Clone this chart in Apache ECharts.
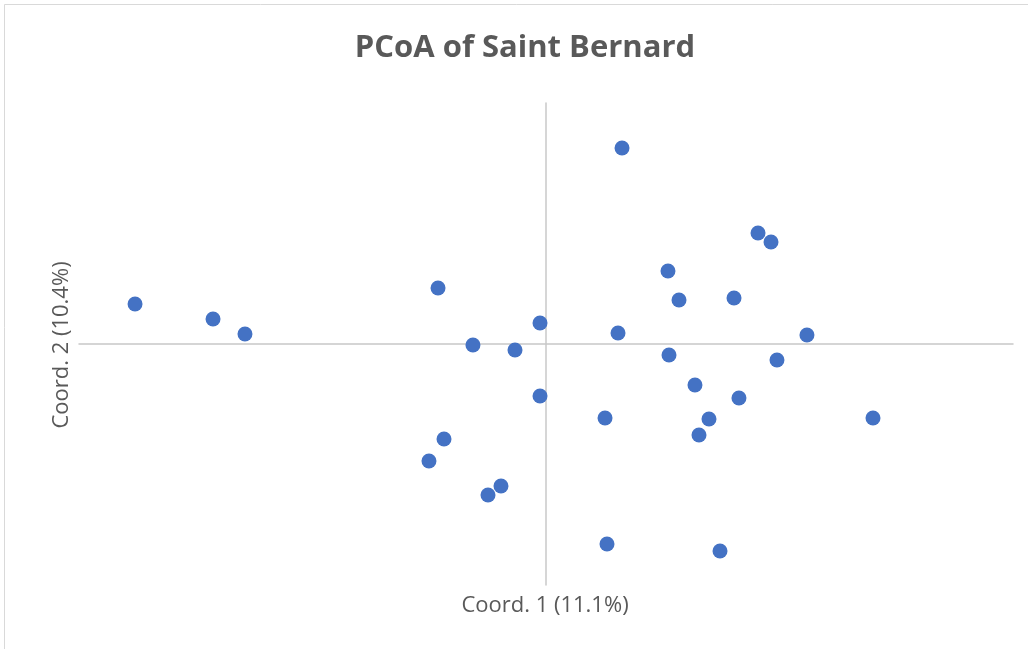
<!DOCTYPE html>
<html><head><meta charset="utf-8">
<script src="https://cdn.jsdelivr.net/npm/echarts@6/dist/echarts.min.js"></script>
<style>html,body{margin:0;padding:0;background:#fff}#c{width:1028px;height:649px}</style>
</head><body><div id="c"></div>
<script>
const title = 'PCoA of Saint Bernard';
const xName = 'Coord. 1 (11.1%)';
const yName = 'Coord. 2 (10.4%)';
const coord1 = [0.0814,0.2270,0.2409,0.1306,-0.1156,0.1424,0.2013,-0.4400,-0.3565,-0.3223,-0.0064,0.0771,0.2794,-0.0782,-0.0332,0.1317,0.2473,0.1595,-0.0064,0.2066,0.0632,0.1745,0.3501,0.1638,-0.1092,-0.1253,-0.0482,-0.0621,0.0653,0.1863];
const coord2 = [0.3253,0.1842,0.1693,0.1212,0.0929,0.0730,0.0763,0.0664,0.0415,0.0166,0.0349,0.0183,0.0149,-0.0017,-0.0100,-0.0183,-0.0266,-0.0680,-0.0863,-0.0896,-0.1228,-0.1245,-0.1228,-0.1510,-0.1577,-0.1942,-0.2357,-0.2506,-0.3320,-0.3436];
const pts = coord1.map((x,i)=>[x,coord2[i]]);
const font = '"Open Sans", "Liberation Sans", sans-serif';
const chart = echarts.init(document.getElementById('c'));
const axisCommon = {
  type:'value',
  axisLine:{onZero:true, lineStyle:{color:'#c8c8c8', width:1.5}},
  axisTick:{show:false}, axisLabel:{show:false}, splitLine:{show:false}
};
chart.setOption({
  animation:false,
  backgroundColor:'#fff',
  grid:{left:79,right:15,top:103,bottom:64},
  xAxis:Object.assign({min:-0.5,max:0.5}, axisCommon),
  yAxis:Object.assign({min:-0.4,max:0.4}, axisCommon),
  graphic:[
    {type:'rect', shape:{x:4.5,y:4.5,width:1100,height:700}, style:{fill:'none',stroke:'#d9d9d9',lineWidth:1}, silent:true, z:-1},
    {type:'text', x:525, y:48, style:{text:title, font:'bold 31px '+font, fill:'#595959', textAlign:'center', textVerticalAlign:'middle'}},
    {type:'text', x:545, y:606, style:{text:xName, font:'22px '+font, fill:'#595959', textAlign:'center', textVerticalAlign:'middle'}},
    {type:'text', x:62, y:345, rotation:Math.PI/2, style:{text:yName, font:'22px '+font, fill:'#595959', textAlign:'center', textVerticalAlign:'middle'}}
  ],
  series:[{type:'scatter', data:pts, symbolSize:15, itemStyle:{color:'#4472c4', opacity:1}}]
});
</script></body></html>
